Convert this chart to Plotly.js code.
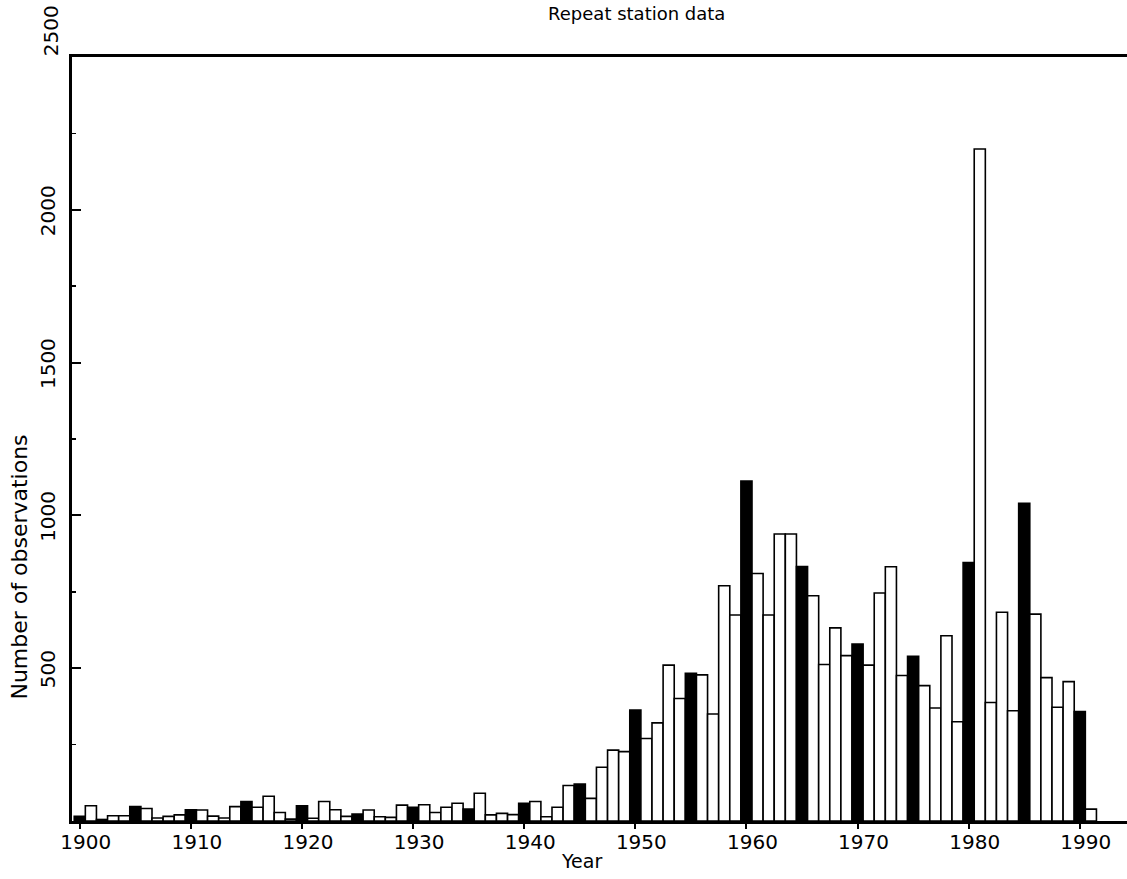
<!DOCTYPE html>
<html>
<head>
<meta charset="utf-8">
<script src="https://cdn.plot.ly/plotly-3.0.1.min.js"></script>
<style>html,body{margin:0;padding:0;background:#fff;}#chart{width:1127px;height:879px;}</style>
</head>
<body>
<div id="chart"></div>
<script>
const years = [1900,1901,1902,1903,1904,1905,1906,1907,1908,1909,
  1910,1911,1912,1913,1914,1915,1916,1917,1918,1919,
  1920,1921,1922,1923,1924,1925,1926,1927,1928,1929,
  1930,1931,1932,1933,1934,1935,1936,1937,1938,1939,
  1940,1941,1942,1943,1944,1945,1946,1947,1948,1949,
  1950,1951,1952,1953,1954,1955,1956,1957,1958,1959,
  1960,1961,1962,1963,1964,1965,1966,1967,1968,1969,
  1970,1971,1972,1973,1974,1975,1976,1977,1978,1979,
  1980,1981,1982,1983,1984,1985,1986,1987,1988,1989,
  1990,1991];
const observations = [15,50,5,17,17,47,41,10,15,20,
  37,36,16,10,47,64,45,81,28,6,
  50,9,64,37,15,23,36,14,12,52,
  45,53,28,45,58,39,91,20,25,21,
  58,64,14,45,116,121,74,176,232,227,
  363,270,321,510,401,483,478,350,770,674,
  1112,810,674,939,939,833,737,512,632,541,
  579,510,746,832,476,539,443,370,606,325,
  846,2199,388,683,361,1040,677,469,372,456,
  358,39];
const xTickVals = [1900,1910,1920,1930,1940,1950,1960,1970,1980,1990];
const xTickText = ['1900','1910','1920','1930','1940','1950','1960','1970','1980','1990'];
const yTickVals = [500,1000,1500,2000,2500];
const yTickText = ['500','1000','1500','2000',''];
const yTopLabel = '2500';
const chartTitle = 'Repeat station data';
const xTitle = 'Year';
const yTitle = 'Number of observations';

const fills = years.map(y => (y % 5 === 0) ? '#000000' : '#ffffff');

const trace = {
  type: 'bar',
  x: years,
  y: observations,
  width: 1,
  marker: {color: fills, line: {color: '#000000', width: 1.6}},
  hoverinfo: 'x+y'
};

const FONT = 'DejaVu Sans, sans-serif';
const layout = {
  width: 1127, height: 879,
  margin: {l: 72, r: 0, t: 57, b: 58, pad: 0},
  paper_bgcolor: '#ffffff', plot_bgcolor: '#ffffff',
  bargap: 0,
  showlegend: false,
  font: {family: FONT, color: '#000000', size: 20},
  title: {text: chartTitle, font: {family: FONT, size: 18, color: '#000'}, x: 0.565, xanchor: 'center', y: 0.984, yanchor: 'middle'},
  xaxis: {
    range: [1899.3, 1994.25],
    tickmode: 'array', tickvals: xTickVals, ticktext: xTickText,
    ticks: 'outside', ticklen: 5, tickwidth: 2, tickcolor: '#000',
    ticklabelshift: 6, ticklabelstandoff: -4,
    showline: true, linecolor: '#000', linewidth: 3, mirror: true,
    showgrid: false, zeroline: false,
    tickfont: {family: FONT, size: 20, color: '#000'}
  },
  yaxis: {
    range: [0, 2500],
    tickmode: 'array', tickvals: yTickVals, ticktext: yTickText,
    ticks: 'inside', ticklen: 9, tickwidth: 2, tickcolor: '#000',
    minor: {tickmode: 'array', tickvals: [250,750,1250,1750,2250], ticks: 'inside', ticklen: 4, tickwidth: 1.5, tickcolor: '#000'},
    tickangle: -90,
    ticklabelstandoff: 6,
    ticklabelshift: 4,
    showline: true, linecolor: '#000', linewidth: 3, mirror: false,
    showgrid: false, zeroline: false,
    tickfont: {family: FONT, size: 20, color: '#000'}
  },
  annotations: [
    {text: yTopLabel, xref: 'paper', yref: 'paper', x: -0.02, y: 1.035,
     xanchor: 'center', yanchor: 'middle', textangle: -90, showarrow: false,
     font: {family: FONT, size: 20, color: '#000'}},
    {text: yTitle, xref: 'paper', yref: 'paper', x: -0.0493, y: 0.333,
     xanchor: 'center', yanchor: 'middle', textangle: -90, showarrow: false,
     font: {family: FONT, size: 22, color: '#000'}},
    {text: xTitle, xref: 'paper', yref: 'paper', x: 0.4834, y: -0.053,
     xanchor: 'center', yanchor: 'middle', showarrow: false,
     font: {family: FONT, size: 19, color: '#000'}}
  ]
};

Plotly.newPlot('chart', [trace], layout, {displayModeBar: false, staticPlot: true});
</script>
</body>
</html>
